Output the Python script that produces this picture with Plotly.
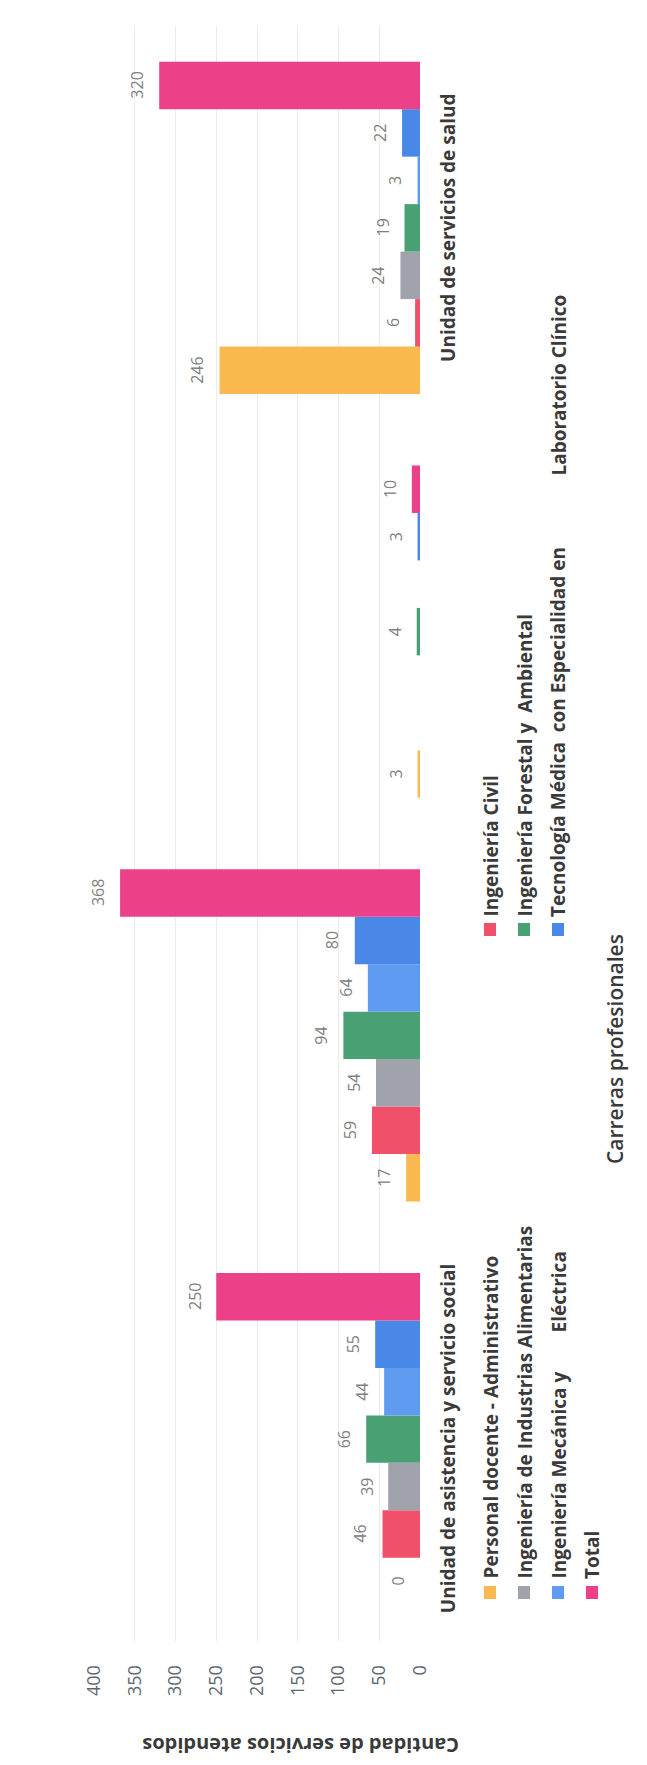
import plotly.graph_objects as go

# ---------------- data ----------------
category_labels = ["Unidad de asistencia y servicio social", "", "", "Unidad de servicios de salud"]
series_names = [
    "Personal docente - Administrativo",
    "Ingeniería Civil",
    "Ingeniería de Industrias Alimentarias",
    "Ingeniería Forestal y Ambiental",
    "Ingeniería Mecánica y Eléctrica",
    "Tecnología Médica con Especialidad en Laboratorio Clínico",
    "Total",
]
personal = [0, 17, 3, 246]
civil = [46, 59, None, 6]
alimentarias = [39, 54, None, 24]
forestal = [66, 94, 4, 19]
mecanica = [44, 64, None, 3]
tecnologia = [55, 80, 3, 22]
total = [250, 368, 10, 320]
value_ticks = [0, 50, 100, 150, 200, 250, 300, 350, 400]
axis_title = "Cantidad de servicios atendidos"
x_title = "Carreras profesionales"

series_values = [personal, civil, alimentarias, forestal, mecanica, tecnologia, total]
colors = ["#F9B94F", "#F0506A", "#A0A2AC", "#48A073", "#5F9BF0", "#4A88E8", "#EC4088"]

# ---------------- layout geometry (pixels) ----------------
W, H = 647, 1765
L, R, T, B = 86, 235, 18, 132
PW = W - L - R
PH = H - T - B
BARGAP = 0.177


def px2x(px):
    return (px - L) / PW


def px2y(py):
    return (H - B - py) / PH


FONT = "Open Sans"
DARK = "#3a3a3a"

fig = go.Figure()
cat_pos = list(range(len(category_labels)))
for name, vals, col in zip(series_names, series_values, colors):
    fig.add_trace(go.Bar(
        x=vals, y=cat_pos, name=name, orientation="h",
        marker=dict(color=col, line=dict(width=0)),
        cliponaxis=False,
    ))

annotations = []
# data labels, placed at the end of each bar of the group
n = len(series_values)
bw = (1 - BARGAP) / n
for i, vals in enumerate(series_values):
    off = -0.5 * (1 - BARGAP) + (i + 0.5) * bw
    for j, v in enumerate(vals):
        if v is None:
            continue
        annotations.append(dict(
            x=v, y=cat_pos[j] + off, xref="x", yref="y", text=str(v),
            showarrow=False, textangle=-90, xanchor="right", yanchor="middle",
            xshift=-9, font=dict(family=FONT, size=16, color="#808080")))

# category labels
for i, lab in enumerate(category_labels):
    if lab:
        annotations.append(dict(
            x=px2x(440), y=i, xref="paper", yref="y", text=lab, showarrow=False,
            textangle=-90, xanchor="center", yanchor="middle",
            font=dict(family=FONT, size=19, color=DARK, weight="bold")))

# value axis title (upside down)
annotations.append(dict(
    x=px2x(293), y=px2y(1738), xref="paper", yref="paper", text=axis_title,
    showarrow=False, textangle=180, xanchor="center", yanchor="middle",
    font=dict(family=FONT, size=20, color=DARK, weight="bold")))

# category axis title
annotations.append(dict(
    x=px2x(607), y=px2y(1041), xref="paper", yref="paper", text=x_title,
    showarrow=False, textangle=-90, xanchor="center", yanchor="middle",
    font=dict(family=FONT, size=21, color=DARK, weight=600)))

# legend (drawn rotated)
legend_items = [
    # (series index, column x, square bottom y, text pieces [(text, start_y)])
    (0, 482, 1591, [("Personal docente - Administrativo", 1573)]),
    (2, 516, 1591, [("Ingeniería de Industrias Alimentarias", 1573)]),
    (4, 550, 1591, [("Ingeniería Mecánica y", 1573), ("Eléctrica", 1327)]),
    (6, 584, 1591, [("Total", 1573)]),
    (1, 482, 928, [("Ingeniería Civil", 911)]),
    (3, 516, 928, [("Ingeniería Forestal y\u00a0\u00a0Ambiental", 911)]),
    (5, 550, 928, [("Tecnología Médica\u00a0\u00a0con Especialidad en", 911), ("Laboratorio Clínico", 470)]),
]
shapes = []
for idx, cx, sb, pieces in legend_items:
    shapes.append(dict(
        type="rect", xref="paper", yref="paper",
        x0=px2x(cx - 6), x1=px2x(cx + 6), y0=px2y(sb), y1=px2y(sb - 13),
        fillcolor=colors[idx], line=dict(width=0)))
    for txt, sy in pieces:
        annotations.append(dict(
            x=px2x(cx), y=px2y(sy), xref="paper", yref="paper", text=txt,
            showarrow=False, textangle=-90, xanchor="center", yanchor="bottom",
            font=dict(family=FONT, size=19, color=DARK, weight="bold")))

fig.update_layout(
    width=W, height=H,
    margin=dict(l=L, r=R, t=T, b=B, pad=0),
    paper_bgcolor="white", plot_bgcolor="white",
    barmode="group", bargap=BARGAP, bargroupgap=0,
    showlegend=False,
    font=dict(family=FONT),
    xaxis=dict(
        range=[400, 0], tickmode="array", tickvals=value_ticks,
        tickangle=-90, tickfont=dict(family=FONT, size=18, color="#5d6673"),
        showgrid=True, gridcolor="#ebebeb", gridwidth=1,
        zeroline=False, showline=False,
        ticks="outside", ticklen=16, tickcolor="rgba(0,0,0,0)",
    ),
    yaxis=dict(
        range=[-0.5, 3.5], showticklabels=False, showgrid=False,
        zeroline=False, showline=False, ticks="",
    ),
    annotations=annotations,
    shapes=shapes,
)

fig.write_html("out.html")
